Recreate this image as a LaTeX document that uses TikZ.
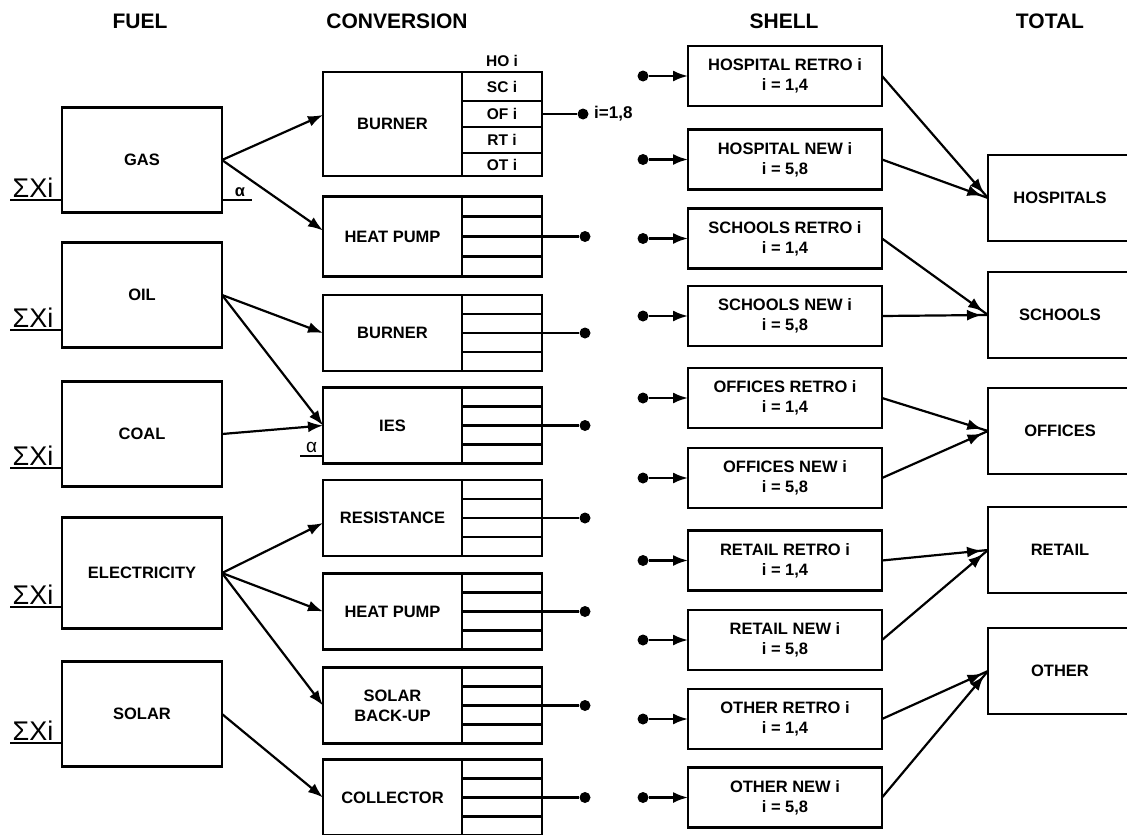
\documentclass[tikz,border=0pt]{standalone}
\usepackage{fontspec}
\setmainfont{Liberation Sans}
\usetikzlibrary{arrows.meta,calc,decorations.markings}

\begin{document}
\begin{tikzpicture}[x=1pt,y=-1pt,
    >={Latex[length=15pt,width=11pt]},
    lbl/.style={font=\bfseries\fontsize{16.5}{20}\selectfont},
    box/.style={lbl,draw,line width=2.6pt,inner sep=0pt,outer sep=0pt},
    fuelbox/.style={box,minimum width=160pt,minimum height=105pt},
    convbox/.style={box,minimum width=139pt,minimum height=76pt},
    cellbox/.style={draw,line width=2.6pt,minimum width=80pt,outer sep=0pt,anchor=west},
    cell/.style={draw,line width=2.2pt,minimum width=80pt,inner sep=0pt,outer sep=0pt,
      font=\bfseries\fontsize{15.5}{17}\selectfont},
    shellbox/.style={box,align=center,minimum width=194pt,minimum height=60pt},
    totalbox/.style={box,minimum width=144pt,minimum height=86pt},
    head/.style={font=\bfseries\fontsize{21}{24}\selectfont},
    sigma/.style={anchor=south west,inner sep=1.5pt,font=\fontsize{27}{29}\selectfont},
    dot/.style={circle,fill,inner sep=0pt,minimum size=11pt},
    wire/.style={line width=2.2pt},
    link/.style={wire,->},
    merge/.style={wire,postaction={decorate},
      decoration={markings,mark=at position -6pt with {\arrow{Latex[length=15pt,width=11pt]}}}}]
  \useasboundingbox (0,0) rectangle (1127,835);
  \clip (0,0) rectangle (1127,835);

  % column heads
  \node[head] (hfuel) at (140,21) {FUEL};
  \node[head] (hconv) at (397,21) {CONVERSION};
  \node[head] (hshell) at (784,21) {SHELL};
  \node[head] (htotal) at (1050,21) {TOTAL};

  % fuels
  \node[fuelbox] (gas) at (142,160) {GAS};
  \node[fuelbox] (oil) at (142,295) {OIL};
  \node[fuelbox] (coal) at (142,434) {COAL};
  \node[fuelbox,minimum height=111pt] (elec) at (142,573) {ELECTRICITY};
  \node[fuelbox] (solar) at (142,714) {SOLAR};

  \foreach \f/\y in {gas/200,oil/330,coal/468,elec/607,solar/743}{
    \coordinate (s-\f) at (10,\y);
    \draw[wire] (s-\f) node[sigma] {ΣXi} -- (s-\f -| \f.west);
  }
  \coordinate (agas) at (252,200);
  \draw[wire] (gas.east |- agas) -- (agas) node[pos=0.6,above,inner sep=2pt,lbl] {α};

  % conversion
  \node[convbox,minimum height=104pt] (burn1) at (392.5,124) {BURNER};
  \node[convbox,minimum height=80pt] (hp1) at (392.5,236.5) {HEAT PUMP};
  \node[convbox] (burn2) at (392.5,333) {BURNER};
  \node[convbox] (ies) at (392.5,425.5) {IES};
  \node[convbox] (res) at (392.5,518) {RESISTANCE};
  \node[convbox] (hp2) at (392.5,611.5) {HEAT PUMP};
  \node[convbox,align=center] (sbu) at (392.5,705.5) {SOLAR\\BACK-UP};
  \node[convbox] (coll) at (392.5,797.5) {COLLECTOR};

  % building types of the first burner
  \node[cell,draw=none] (ho) at (502,61) {HO i};
  \node[cell,minimum height=29pt] (sc) at (502,86.5) {SC i};
  \node[cell,minimum height=26pt] (of) at (502,114) {OF i};
  \node[cell,minimum height=26pt] (rt) at (502,140) {RT i};
  \node[cell,minimum height=23pt] (ot) at (502,164.5) {OT i};
  \draw[line width=2.6pt] (sc.north west) rectangle (ot.south east);
  \node[dot] (o-burn1) at (583,114) {};
  \draw[wire] (of.east) -- (o-burn1);
  \node[anchor=west,inner sep=0pt,font=\bfseries\fontsize{17}{19}\selectfont] (rng) at (594,114) {i=1,8};

  \foreach \b/\h in {hp1/80,burn2/76,ies/76,res/76,hp2/76,sbu/76,coll/76}{
    \node[cellbox,minimum height=\h pt] (\b-c) at (\b.east) {};
    \foreach \t in {0.25,0.5,0.75}
      \draw[wire] ($(\b-c.north west)!\t!(\b-c.south west)$) -- ($(\b-c.north east)!\t!(\b-c.south east)$);
    \path (\b-c.east) ++(43,0) node[dot] (o-\b) {};
    \draw[wire] (\b-c.east) -- (o-\b);
  }

  % fuel to conversion
  \draw[link] (gas.east) -- ([yshift=9pt]burn1.west);
  \draw[link] (gas.east) -- ([yshift=6pt]hp1.west);
  \draw[link] (oil.east) -- (burn2.west);
  \draw[link] (oil.east) -- (ies.west);
  \draw[link] (coal.east) -- (ies.west);
  \draw[link] (elec.east) -- ([yshift=-5pt]res.west);
  \draw[link] (elec.east) -- (hp2.west);
  \draw[link] (elec.east) -- (sbu.west);
  \draw[link] (solar.east) -- (coll.west);
  \coordinate (aies) at (300,456);
  \draw[wire] (aies) -- (aies -| ies.west) node[midway,above,inner sep=2pt,font=\fontsize{19}{21}\selectfont] {α};

  % shell
  \node[shellbox] (hosr) at (785,76) {HOSPITAL RETRO i\\i = 1,4};
  \node[shellbox] (hosn) at (785,159.5) {HOSPITAL NEW i\\i = 5,8};
  \node[shellbox] (schr) at (785,238.5) {SCHOOLS RETRO i\\i = 1,4};
  \node[shellbox] (schn) at (785,316) {SCHOOLS NEW i\\i = 5,8};
  \node[shellbox] (offr) at (785,398) {OFFICES RETRO i\\i = 1,4};
  \node[shellbox] (offn) at (785,478) {OFFICES NEW i\\i = 5,8};
  \node[shellbox] (retr) at (785,560.5) {RETAIL RETRO i\\i = 1,4};
  \node[shellbox] (retn) at (785,640) {RETAIL NEW i\\i = 5,8};
  \node[shellbox] (othr) at (785,719) {OTHER RETRO i\\i = 1,4};
  \node[shellbox] (othn) at (785,797.5) {OTHER NEW i\\i = 5,8};

  \foreach \s in {hosr,hosn,schr,schn,offr,offn,retr,retn,othr,othn}{
    \path (\s.west) ++(-45,0) node[dot] (i-\s) {};
    \draw[link] (i-\s) -- (\s.west);
  }

  % totals
  \node[totalbox] (hosp) at (1060,198) {HOSPITALS};
  \node[totalbox] (schools) at (1060,315) {SCHOOLS};
  \node[totalbox] (offices) at (1060,431) {OFFICES};
  \node[totalbox] (retail) at (1060,550) {RETAIL};
  \node[totalbox] (other) at (1060,671) {OTHER};

  \foreach \s/\t in {hosr/hosp,hosn/hosp,schr/schools,schn/schools,offr/offices,
      offn/offices,retr/retail,retn/retail,othr/other,othn/other}
    \draw[merge] (\s.east) -- (\t.west);
\end{tikzpicture}
\end{document}
